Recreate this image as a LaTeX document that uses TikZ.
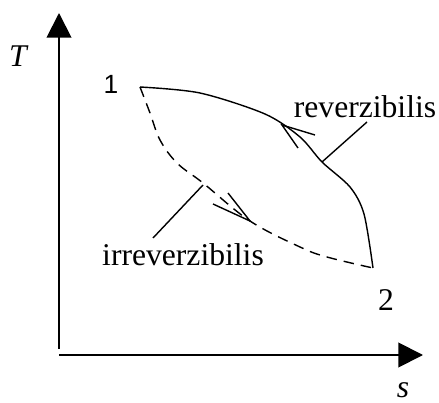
\documentclass[tikz,border=0pt]{standalone}
\usepackage{fontspec}
\setmainfont{Liberation Serif}
\newfontfamily\arialfont{Liberation Sans}
\usepackage{tikz}
\usetikzlibrary{arrows.meta}

\begin{document}
\begin{tikzpicture}[x=0.02cm,y=0.02cm,>={Triangle[length=14,width=14]}]
  \tikzstyle{axis}=[line width=1.1pt,->]
  \tikzstyle{proc}=[line width=0.8pt]
  \tikzstyle{lbl}=[inner sep=0pt,font=\fontsize{18}{20}\selectfont]
  \useasboundingbox (0,0) rectangle (439,402);
  % axes
  \coordinate (ytop) at (59,389);
  \coordinate (ybot) at (59,53);
  \coordinate (xleft) at (59,47);
  \coordinate (xright) at (423,47);
  \draw[axis] (ybot)--(ytop);
  \draw[axis] (xleft)--(xright);
  \node[lbl] (T) at (18,346) {\itshape T};
  \node[lbl] (s) at (403,12) {\itshape s};
  % states
  \coordinate (p1) at (140,315);
  \coordinate (p2) at (373,134);
  \node[inner sep=0pt,font=\arialfont\fontsize{15}{17}\selectfont] (n1) at (111,318) {1};
  \node[lbl] (n2) at (386,102) {2};
  % reversible path
  \draw[proc] plot[smooth,tension=0.5] coordinates {(p1) (200,309)
    (265,288) (300,265) (322,240) (350,215) (364,188) (p2)};
  \coordinate (rtip) at (282,277);
  \coordinate (rb1) at (315,267);
  \coordinate (rb2) at (298,254);
  \draw[proc] (rb1)--(rtip)--(rb2);
  % irreversible path
  \draw[proc,dashed,dash pattern=on 6pt off 4pt] plot[smooth,tension=0.6] coordinates {(p1)
    (150,289) (160,262) (177,239) (203,219) (250,181) (300,155) (327,145) (p2)};
  \coordinate (itip) at (250,181);
  \coordinate (ib1) at (213,198);
  \coordinate (ib2) at (228,209);
  \draw[proc] (ib1)--(itip)--(ib2);
  % labels
  \node[lbl] (rev) at (365,295) {reverzibilis};
  \node[lbl] (irr) at (183,147) {irreverzibilis};
  \coordinate (revend) at (322,240);
  \coordinate (irrend) at (203,217);
  \draw[proc] (367,280)--(revend);
  \draw[proc] (153,164)--(irrend);
\end{tikzpicture}
\end{document}
